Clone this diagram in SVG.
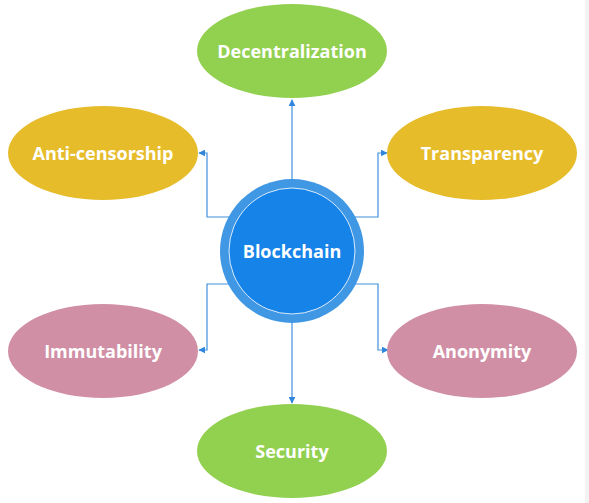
<svg xmlns="http://www.w3.org/2000/svg" width="589" height="503" viewBox="0 0 589 503">
<style>
.lbl{font-family:"Open Sans","Noto Sans","Liberation Sans",sans-serif;font-weight:bold;font-size:18px;fill:#ffffff;text-anchor:middle;dominant-baseline:central}
.green{fill:#92d050}
.gold{fill:#e6bc2b}
.pink{fill:#d08fa5}
.conn{fill:none;stroke:#3f8fdc;stroke-width:1.2}
</style>
<defs>
<marker id="arr" viewBox="0 0 10 10" refX="9" refY="5" markerWidth="7" markerHeight="7" markerUnits="userSpaceOnUse" orient="auto">
<path d="M0,0 L10,5 L0,10 z" fill="#2f86dc"/>
</marker>
</defs>
<rect width="589" height="503" fill="#ffffff"/>
<rect x="585" y="0" width="4" height="503" fill="#f3f3f3"/>
<g id="connectors">
<path class="conn" d="M292,180 L292,100" marker-end="url(#arr)"/>
<path class="conn" d="M292,322 L292,403" marker-end="url(#arr)"/>
<path class="conn" d="M232,217 L207,217 L207,153 L199,153" marker-end="url(#arr)"/>
<path class="conn" d="M352,217 L378,217 L378,153 L387,153" marker-end="url(#arr)"/>
<path class="conn" d="M232,284 L207,284 L207,350 L199,350" marker-end="url(#arr)"/>
<path class="conn" d="M352,284 L378,284 L378,350 L388,350" marker-end="url(#arr)"/>
</g>
<g id="blockchain">
<circle cx="292" cy="251" r="72" fill="#4097e4"/>
<circle cx="292" cy="251" r="63" fill="#1683e8" stroke="#d9ebfb" stroke-width="1"/>
<text class="lbl" x="292" y="251">Blockchain</text>
</g>
<g id="decentralization">
<ellipse class="green" cx="292" cy="51" rx="95" ry="47"/>
<text class="lbl" x="292" y="51">Decentralization</text>
</g>
<g id="anti-censorship">
<ellipse class="gold" cx="103" cy="153" rx="95" ry="47"/>
<text class="lbl" x="103" y="153">Anti-censorship</text>
</g>
<g id="transparency">
<ellipse class="gold" cx="482" cy="153" rx="95" ry="47"/>
<text class="lbl" x="482" y="153">Transparency</text>
</g>
<g id="immutability">
<ellipse class="pink" cx="103" cy="351" rx="95" ry="47"/>
<text class="lbl" x="103" y="351">Immutability</text>
</g>
<g id="anonymity">
<ellipse class="pink" cx="482" cy="351" rx="95" ry="47"/>
<text class="lbl" x="482" y="351">Anonymity</text>
</g>
<g id="security">
<ellipse class="green" cx="292" cy="451" rx="95" ry="47"/>
<text class="lbl" x="292" y="451">Security</text>
</g>
</svg>
